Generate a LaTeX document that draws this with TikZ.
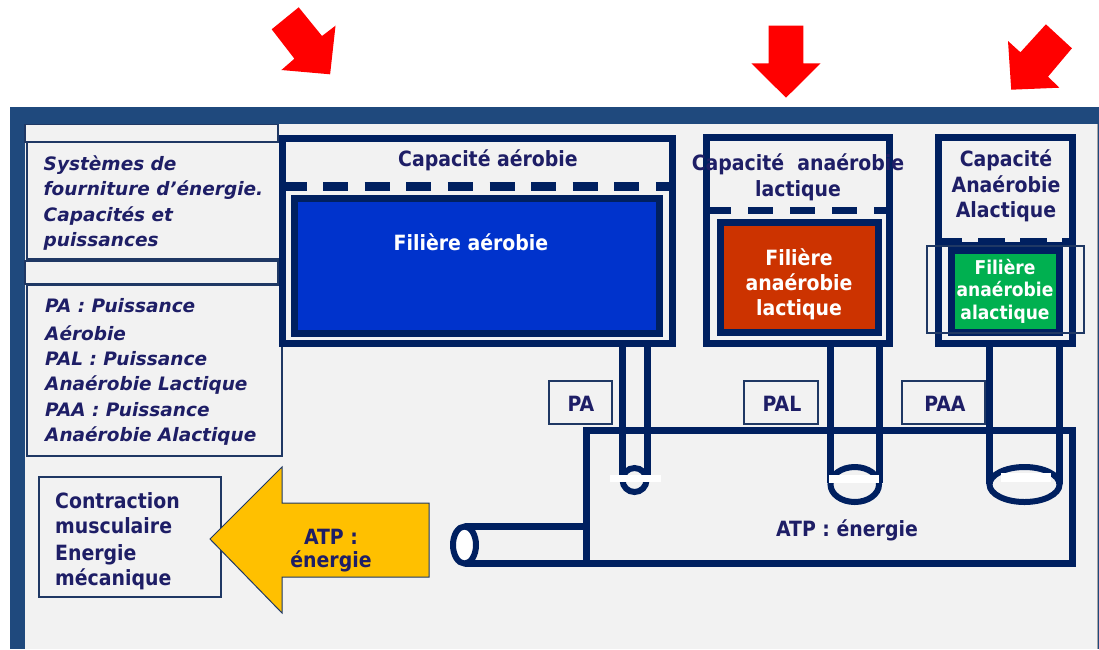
\documentclass[tikz,border=0pt]{standalone}
\usepackage{fontspec}
\newfontfamily\capfont{DejaVu Sans Condensed}[BoldFont={DejaVu Sans Condensed Bold}]
\newfontfamily\notefont{DejaVu Sans}[BoldItalicFont={DejaVu Sans Bold Oblique}]
\definecolor{frameblue}{HTML}{1F497D}
\definecolor{paper}{HTML}{F2F2F2}
\definecolor{navy}{HTML}{002060}
\definecolor{thinblue}{HTML}{1F3864}
\definecolor{txtnavy}{HTML}{1E1E66}
\definecolor{aerblue}{HTML}{0033CC}
\definecolor{lacred}{HTML}{CC3300}
\definecolor{alagreen}{HTML}{00B050}
\definecolor{atpyellow}{HTML}{FFC000}
\tikzset{
  wall/.style={draw=navy, line width=7pt},
  thinbox/.style={draw=thinblue, line width=1.3pt},
  lbl/.style={inner sep=0pt, anchor=base, text=txtnavy,
    font=\capfont\bfseries\fontsize{21}{25}\selectfont},
  wlbl/.style={lbl, text=white},
  smallw/.style={wlbl, font=\capfont\bfseries\fontsize{19}{23}\selectfont},
  note/.style={inner sep=0pt, anchor=base west, text=txtnavy,
    font=\notefont\bfseries\itshape\fontsize{18.5}{25}\selectfont},
  plain/.style={lbl, anchor=base west},
  redarrow/.style={fill=red},
}
\begin{document}
\begin{tikzpicture}[x=1pt,y=-1pt]
\useasboundingbox (0,0) rectangle (1099,649);
\fill[white] (0,0) rectangle (1099,649);

% frame
\fill[frameblue] (10,107) rectangle (1099,649);
\fill[paper] (25,124) rectangle (1097,649);
\draw[gray!70, line width=0.8pt] (1097.4,124) -- (1097.4,649);

% red pointers
\fill[redarrow] (298.7,7.3) -- (322,36) -- (335.5,25.7) -- (330.1,74.3) -- (281.4,70) -- (294.4,58.7) -- (271.7,29.3) -- cycle;
\fill[redarrow] (768.7,25.7) -- (803.3,25.7) -- (803.3,63.3) -- (820.6,63.3) -- (786,97.7) -- (751.4,63.3) -- (768.7,63.3) -- cycle;
\fill[redarrow] (1045.9,24.3) -- (1071.9,48.3) -- (1048,76.7) -- (1059.4,87.7) -- (1011.2,89.7) -- (1008,41) -- (1020.4,52.3) -- cycle;

% left column boxes
\draw[thinbox] (25,124.5) rectangle (278,142);
\draw[thinbox] (27,142) rectangle (282,259);
\draw[thinbox] (25,261) rectangle (278,284);
\draw[thinbox] (27,285) rectangle (282,456);
\draw[thinbox] (39,477) rectangle (221,597);

% aerobic system
\draw[wall, fill=paper] (282,138) rectangle (672,343.5);
\draw[navy, line width=9pt, dash pattern=on 25pt off 16.6pt] (281.5,186) -- (672,186);
\draw[wall, fill=aerblue] (294.5,198.5) rectangle (659.5,333.5);

% anaerobic lactic system
\draw[wall, fill=paper] (706.5,137.5) rectangle (889.5,343.5);
\draw[navy, line width=7pt, dash pattern=on 25pt off 17pt] (706,210.5) -- (889.5,210.5);
\draw[wall, fill=lacred] (720.5,222.5) rectangle (878.5,332.5);

% anaerobic alactic system
\draw[wall, fill=paper] (938.5,137.5) rectangle (1072.5,343.5);
\fill[navy] (935,242) rectangle (1076,247);
\fill[navy] (935,238) rectangle (962,242);
\fill[navy] (978,238) rectangle (1005,242);
\fill[navy] (1020,238) rectangle (1047,242);
\fill[navy] (1062,238) rectangle (1076,242);
\draw[wall, fill=alagreen] (951.5,250.5) rectangle (1059.5,332.5);
\draw[thinbox] (927,246) rectangle (1084,333);

% power labels
\draw[thinbox, fill=paper] (549,381) rectangle (612,424);
\draw[thinbox, fill=paper] (744,381) rectangle (818,424);
\draw[thinbox, fill=paper] (902,381) rectangle (985,424);

% ATP reservoir and outlet tube
\draw[wall] (586,430.5) rectangle (1072.5,563);
\draw[wall] (464.5,526.5) -- (586,526.5);
\draw[wall] (464.5,563.5) -- (586,563.5);
\draw[navy, line width=6pt, fill=white] (464.5,545) ellipse [x radius=11.5pt, y radius=18.5pt];

% pipes feeding the reservoir
\draw[wall] (622,347) -- (622,478) (647,347) -- (647,478);
\draw[navy, line width=6pt] (634.5,480) circle [radius=12pt];
\fill[white] (610,475) rectangle (661,482);

\draw[wall] (830.5,347) -- (830.5,483) (879,347) -- (879,483);
\draw[navy, line width=6pt] (854.75,484.5) ellipse [x radius=24.25pt, y radius=17.5pt];
\fill[white] (828.6,475) rectangle (878.6,483);

\draw[wall] (989.5,347) -- (989.5,484) (1059.5,347) -- (1059.5,484);
\draw[navy, line width=6pt] (1024.5,484.5) ellipse [x radius=35pt, y radius=17.5pt];
\fill[white] (1001,473) rectangle (1051,482);

% energy out arrow
\draw[fill=atpyellow, draw=thinblue, line width=1pt] (210,539) -- (282,467) -- (282,503) -- (429,503) -- (429,577) -- (282,577) -- (282,613) -- cycle;

% texts
\node[lbl] (capA) at (488,166.7) {Capacité aérobie};
\node[lbl] (capL1) at (798,170) {Capacité\ \ anaérobie};
\node[lbl] (capL2) at (798,196) {lactique};
\node[lbl] (capC1) at (1006,166.7) {Capacité};
\node[lbl] (capC2) at (1006,192.7) {Anaérobie};
\node[lbl] (capC3) at (1006,217.3) {Alactique};

\node[wlbl] (filA) at (471,250.7) {Filière aérobie};
\node[wlbl] (filL1) at (799,265) {Filière};
\node[wlbl] (filL2) at (799,290) {anaérobie};
\node[wlbl] (filL3) at (799,315) {lactique};
\node[smallw] (filC1) at (1005,274) {Filière};
\node[smallw] (filC2) at (1005,296.7) {anaérobie};
\node[smallw] (filC3) at (1005,319.5) {alactique};

\node[lbl] (pa) at (581,411.5) {PA};
\node[lbl] (pal) at (782,411.5) {PAL};
\node[lbl] (paa) at (945,411.5) {PAA};
\node[lbl] (atp) at (847,536.5) {ATP : énergie};
\node[lbl] (atpA) at (331,544) {ATP :};
\node[lbl] (atpB) at (331,567.5) {énergie};

\node[plain] (ct1) at (55,508.3) {Contraction};
\node[plain] (ct2) at (55,533.3) {musculaire};
\node[plain] (ct3) at (55,560) {Energie};
\node[plain] (ct4) at (55,585) {mécanique};

\node[note] (sy1) at (43.5,170.7) {Systèmes de};
\node[note] (sy2) at (43.5,195.7) {fourniture d’énergie.};
\node[note] (sy3) at (43.5,221.7) {Capacités et};
\node[note] (sy4) at (43.5,246.7) {puissances};

\node[note] (lg1) at (45,312.3) {PA : Puissance};
\node[note] (lg2) at (45,340) {Aérobie};
\node[note] (lg3) at (45,365.7) {PAL : Puissance};
\node[note] (lg4) at (45,390.7) {Anaérobie Lactique};
\node[note] (lg5) at (45,416.7) {PAA : Puissance};
\node[note] (lg6) at (45,441.7) {Anaérobie Alactique};
\end{tikzpicture}
\end{document}
